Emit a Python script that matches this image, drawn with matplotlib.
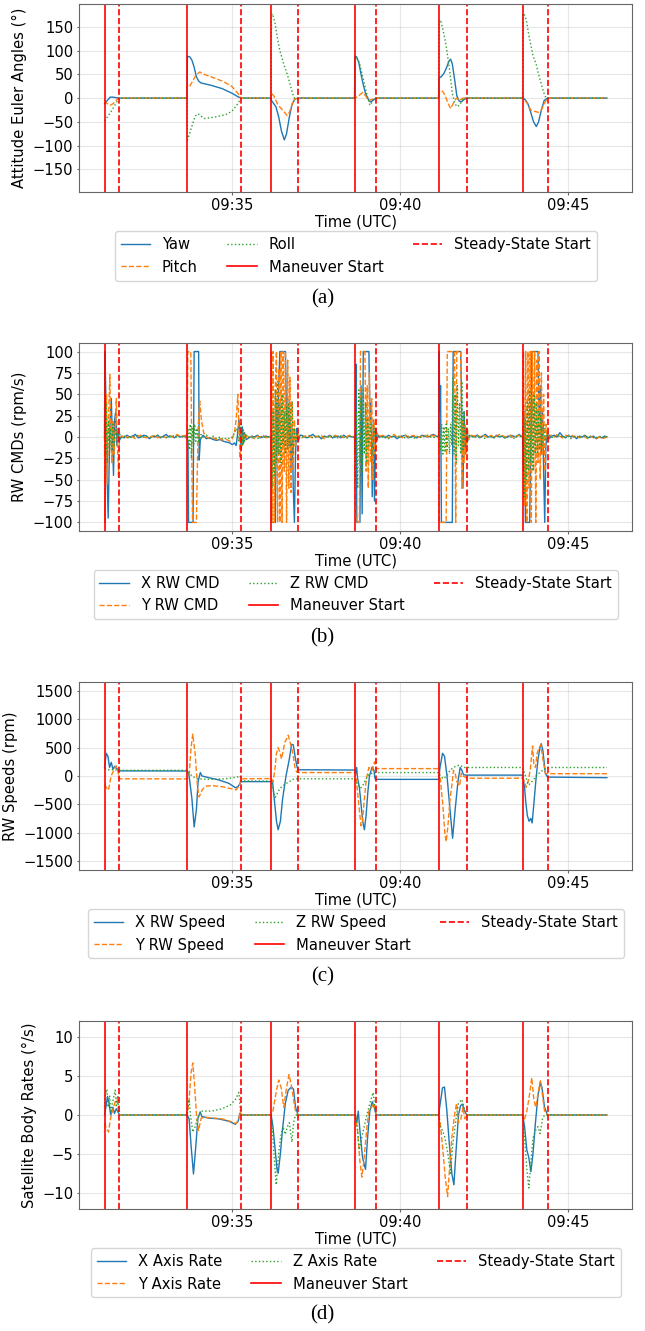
import numpy as np
import matplotlib
matplotlib.use('Agg')
import matplotlib.pyplot as plt
import matplotlib.dates as mdates
from matplotlib.ticker import MultipleLocator

plt.rcParams['font.size'] = 10.6

# time axis: seconds after the first maneuver (09:31:12.5 UTC)
START = np.datetime64('2024-01-01T09:31:12.500')
maneuver_start_s = [0, 148, 298, 447, 597, 747]
steady_start_s = [26.5, 244, 346, 485, 647, 791]

# ---------------- (a) attitude euler angles (deg) ----------------
yaw_t = [0, 5, 10, 15, 20, 26.5,
         147.5, 148, 152, 156, 160, 164, 168, 172, 190, 210, 228, 238, 244,
         297.5, 298, 301, 306, 311, 316, 321, 325, 330, 335, 340, 346,
         446.5, 447, 450, 454, 458, 462, 466, 471, 475, 479, 485,
         596.5, 597, 601, 606, 611, 615, 618, 621, 625, 629, 633, 637, 642, 647,
         746.5, 747, 751, 756, 761, 766, 771, 775, 780, 785, 791, 897]
yaw = [-12, -5, 2, 2, 1, 0,
       0, 88, 87, 80, 65, 45, 36, 32, 27, 20, 10, 3, 0,
       0, -5, -10, -18, -40, -70, -88, -75, -40, -12, -2, 0,
       0, 88, 87, 75, 50, 28, 10, -3, -8, -5, 0,
       0, 42, 45, 52, 65, 78, 82, 72, 40, 5, -6, -8, -3, 0,
       0, 0, -3, -12, -30, -50, -60, -50, -25, -5, 0, 0]

pitch_t = [0, 5, 10, 15, 22, 26.5,
           147.5, 148, 152, 157, 163, 170, 178, 190, 212, 227, 238, 244,
           297.5, 298, 302, 306, 310, 318, 326, 330, 336, 340, 346,
           446.5, 447, 452, 457, 461, 466, 472, 477, 485,
           596.5, 597, 601, 605, 609, 613, 618, 621, 625, 629, 634, 640, 647,
           746.5, 747, 754, 761, 768, 775, 780, 786, 791, 897]
pitch = [-5, -12, -15, -12, -3, 0,
         0, 28, 25, 35, 48, 55, 50, 45, 35, 25, 10, 0,
         0, 10, 5, -5, -15, -25, -37, -30, -10, -2, 0,
         0, 0, 3, 8, 12, 5, -5, -3, 0,
         0, 15, 17, 12, 3, -10, -22, -15, -5, 0, -5, 0, 0,
         0, 0, -10, -25, -28, -30, -25, -10, 0, 0]

roll_t = [0, 8, 16, 22, 26.5,
          147.5, 148, 152, 157, 162, 167, 172, 179, 197, 216, 227, 236, 244,
          297.5, 298, 300, 304, 309, 313, 318, 321, 325, 330, 335, 339, 346,
          446.5, 447, 450, 455, 460, 466, 470, 474, 478, 482, 485,
          596.5, 597, 600, 605, 610, 616, 621, 625, 629, 634, 638, 642, 647,
          746.5, 747, 749, 753, 758, 765, 771, 775, 781, 786, 789, 791, 897]
roll = [-48, -35, -20, -8, 0,
        0, -88, -75, -55, -38, -33, -38, -43, -40, -35, -28, -15, 0,
        0, 175, 178, 160, 125, 100, 80, 68, 55, 35, 12, 0, 0,
        0, 85, 85, 75, 50, 20, 0, -15, -8, 0, 0,
        0, 160, 165, 140, 110, 60, 10, -10, -18, -15, -5, 0, 0,
        0, 175, 178, 165, 130, 90, 70, 50, 25, 5, 0, 0, 0]

# ---------------- (b) reaction wheel commands (rpm/s) ----------------
cmd_quiet_t = [30, 35, 40, 45, 50, 55, 60, 65, 70, 75, 80, 85, 90, 95, 100, 105,
               110, 115, 120, 125, 130, 135, 140, 145,
               258, 263, 268, 273, 278, 283, 288, 293,
               352, 357, 362, 367, 372, 377, 382, 387, 392, 397, 402, 407, 412,
               417, 422, 427, 432, 437, 442,
               492, 497, 502, 507, 512, 517, 522, 527, 532, 537, 542, 547, 552,
               557, 562, 567, 572, 577, 582, 587, 592,
               655, 660, 665, 670, 675, 680, 685, 690, 695, 700, 705, 710, 715,
               720, 725, 730, 735, 740, 744,
               798, 803, 808, 813, 818, 823, 828, 833, 838, 843, 848, 853, 858,
               863, 868, 873, 878, 883, 888, 893, 897]
cmd_x_quiet = [1, -1, 2, 0, 1, 3, -1, 0, 2, 1, -2, 1, 0, 2, -1, 1, 3, 0, 1, -1, 2, 0, 1, 0,
               -1, 1, 0, 2, -1, 0, 1, 0,
               2, 0, -1, 1, 3, 0, 1, -2, 1, 0, 2, -1, 0, 1, -1, 2, 0, 1, 0,
               0, 1, -1, 2, 0, 1, -2, 0, 1, 2, -1, 0, 1, -1, 0, 2, 1, 0, 1, 3, 1,
               1, 0, 2, -1, 1, 3, 0, 1, -1, 2, 0, 1, -1, 0, 2, 1, 0, 3, 1,
               1, 2, 0, 5, 1, -1, 2, 0, 1, -2, 1, 0, 2, -1, 0, 1, -2, 0, -1, 1, 0]
cmd_y_quiet = [0, 2, -1, 1, 0, -2, 1, 2, 0, -1, 1, 0, 2, -1, 0, 1, -1, 2, 0, 1, 3, 0, 1, 2,
               1, 0, -2, 1, 0, 2, -1, 1,
               -1, 1, 2, 0, -1, 1, 0, 2, -2, 0, 1, -1, 2, 0, 1, -1, 0, 2, 1,
               1, 2, 0, -1, 1, 3, 0, 1, -1, 2, 0, 1, 2, -1, 0, 1, 2, 0, 3, 1, 2,
               2, 1, 3, 0, 2, 1, -1, 2, 0, 1, 3, 2, 0, 1, 2, -1, 1, 2, 0,
               2, 0, 3, 1, -1, 2, 1, 3, 0, 2, -1, 1, 0, -2, 1, -1, -2, 0, -2, -1, 0]
cmd_z_quiet = [-1, 1, 0, -2, 1, 0, 2, -1, 0, 1, -1, 0, 1, 2, -1, 0, -1, 1, 0, 2, -1, 1, 0, -1,
               0, -1, 1, -2, 0, 1, -1, 0,
               1, -1, 0, 2, -1, 0, 1, -2, 0, 1, -1, 2, 0, -1, 1, 0, -2, 1, 0,
               -1, 0, 1, -2, 0, 1, -1, 2, 0, -1, 1, 0, -2, 1, 0, -1, 1, 2, 0, -1, 1,
               0, 1, -1, 2, 0, -2, 1, 0, -1, 1, 2, 0, -1, 1, 0, -2, 1, 0, 1,
               -1, 1, 0, 2, -1, 0, 1, -2, 0, 1, -1, 0, 2, -1, 1, 0, -1, 1, 0, -1, 1]

cmd_x_man_t = [0, 0.6, 2, 3.5, 5, 6.5, 8, 10, 12, 14, 16, 18, 20, 22, 24, 26,
               147.5, 149, 150, 158, 160, 168, 169, 171, 176, 182, 188, 194, 200, 206,
               212, 218, 224, 228, 232, 235, 237, 240, 242, 244, 246, 248, 250, 253,
               297.5, 298, 305, 307, 309, 311, 313, 323, 325, 327, 329, 331, 333, 335,
               337, 339, 341, 343, 346, 349,
               446.5, 447.5, 449, 450.5, 456, 458, 460, 462, 472, 474, 476, 478, 480,
               482, 484, 486, 489,
               596.5, 597.5, 598.5, 600, 601.5, 621, 622.5, 636, 638, 640, 642, 644,
               646, 648, 651,
               746.5, 748, 750, 751.5, 759, 761, 763, 774, 776, 778, 780, 782, 784,
               786, 788, 791, 794]
cmd_x_man = [0, 100, 60, -20, -60, -95, -40, 20, 45, 0, -45, 20, 30, -10, 10, -5,
             0, -5, -100, -100, 100, 100, -27, -3, 2, -2, -1, -3, -4, -3,
             -5, -6, -7, -9, -7, -10, 0, 20, 5, -15, 12, -8, 5, -3,
             0, -100, -100, 40, -20, 60, 100, 100, 20, 45, -10, 25, -40, 10,
             -60, -100, -20, 10, -5, 2,
             0, -20, 85, -100, -100, 60, -90, 100, 100, 20, 40, -70, 20,
             -75, 10, -5, 2,
             0, 100, 30, 60, -100, -100, 100, 100, 20, -60, 30, -20,
             10, -5, 2,
             0, -40, 30, -100, -100, -20, 100, 100, 20, 60, -20, 30, -40,
             -100, -10, 5, -2]

cmd_y_man_t = [0, 0.8, 2, 3.5, 5, 7, 9.5, 11, 13, 15, 17, 19, 21, 23, 25, 26.5,
               147.5, 148.7, 154, 157, 164, 167, 170, 173, 177, 182, 188, 194, 200,
               206, 212, 218, 224, 228, 232, 235, 238, 240, 242, 244, 246, 248, 251, 254,
               297.5, 298, 299, 301, 303, 305, 307, 309, 311, 313, 315, 317, 319, 321,
               323, 325, 327, 329, 331, 333, 335, 337, 339, 341, 344, 347,
               446.5, 447, 449, 455, 457, 465, 467, 469, 471, 473, 475, 477, 479, 481,
               483, 486, 490,
               596.5, 597.5, 610, 612, 625, 627, 629, 636, 638, 640, 642, 644, 646,
               648, 650, 652,
               746.5, 748, 750, 752, 754, 756, 758, 760, 762, 764, 766, 768, 770, 772,
               774, 776, 778, 780, 782, 784, 786, 788, 791, 794]
cmd_y_man = [0, -100, -30, 50, -55, 20, 73, 10, -30, 20, -20, 10, 45, -10, -47, 0,
             0, 100, 100, -100, -100, 10, 42, 20, 5, 0, -2, -1, -3,
             -2, -4, -3, -5, -2, 5, 20, 50, 10, -25, 10, -10, 5, -3, 1,
             0, 100, -100, 100, -100, 60, 100, -100, 80, -100, 100, -100, 100, -40,
             100, -100, 90, -60, 70, -65, 40, -40, 20, -10, 5, 0,
             0, -60, -100, -100, 100, 100, -40, 60, -60, 75, -30, 45, -50, 20,
             -20, 5, 0,
             0, -100, -100, 100, 100, -100, 100, 100, -60, 20, -30, 15, -20,
             8, -3, 0,
             0, 100, -80, 100, -100, 100, -60, 100, -100, 100, -40, 100, -100, 90,
             -30, 100, -50, 75, -20, 50, -40, 15, -5, 2]

cmd_z_man_t = [0, 1, 2, 3, 5, 7, 9, 11, 13, 15, 17, 20, 23, 26,
               147.5, 149, 151, 153, 155, 157, 159, 161, 163, 165, 168, 172, 176, 182,
               188, 194, 200, 206, 212, 218, 224, 228, 232, 236, 240, 244, 246, 248,
               250, 252, 255,
               297.5, 299, 301, 303, 305, 307, 309, 311, 313, 315, 317, 319, 321, 323,
               325, 327, 329, 331, 333, 335, 337, 339, 341, 344, 347,
               446.5, 448, 450, 452, 454, 456, 458, 460, 462, 464, 466, 468, 470, 472,
               475, 478, 481, 484, 487,
               596.5, 598, 600, 602, 604, 606, 608, 610, 612, 614, 616, 618, 620, 622,
               624, 626, 628, 630, 632, 634, 636, 638, 640, 642, 644, 646, 648, 651,
               746.5, 749, 751, 753, 755, 757, 759, 761, 763, 765, 767, 769, 771, 773,
               775, 777, 779, 781, 784, 787, 791]
cmd_z_man = [0, 80, -20, 40, -30, 20, -15, 10, -15, 15, -10, 10, -5, 5,
             0, 10, -15, 15, -25, 10, -10, 15, -5, 10, -5, 3, 0, 2,
             -1, 1, -2, 0, -3, -1, -2, 0, 5, 10, -5, 17, -10, 8,
             -5, 3, 0,
             0, -60, 30, -45, 55, -30, 65, -20, 40, -30, 50, -10, 30, -20,
             35, -15, 40, -10, 35, 42, -20, 10, -5, 3, 0,
             0, -50, 30, -60, 55, -30, 45, -40, 55, -20, 40, -30, 20, -10,
             15, -20, 10, -5, 2,
             0, 15, -15, 15, -20, 12, -18, 15, -15, 10, -20, 15, -10, 70,
             -20, 50, -30, 60, -10, 40, -20, 65, -15, 30, -10, 10, -5, 0,
             0, -70, 20, -50, 40, -40, 55, -30, 45, -40, 50, -20, 40, -20,
             30, -15, 25, -10, 15, -5, 3]

# ---------------- (c) reaction wheel speeds (rpm) ----------------
spd_x_t = [0, 3, 6, 9, 12, 15, 18, 22, 26.5, 147.5,
           151, 156, 160, 164, 167, 171, 174, 186, 204, 222, 234, 239, 244, 297.5,
           300, 303, 307, 310, 314, 318, 324, 330, 334, 337, 341, 344, 346, 446.5,
           449, 450, 452, 455, 458, 461, 464, 467, 470, 473, 476, 478, 481, 483, 485, 596.5,
           599, 603.5, 607, 611.5, 616, 621.5, 626, 631, 635, 638, 641, 647, 746.5,
           750, 752, 755, 758, 761, 763.5, 766.5, 770, 774, 777.5, 779.7, 782.7, 787, 791, 897]
spd_x = [150, 400, 350, 150, 240, 120, 170, 130, 90, 88,
         0, -400, -900, -600, -100, 60, 0, -30, -70, -130, -210, -180, -100, -100,
         -100, -400, -800, -950, -800, -400, 0, 300, 560, 550, 300, 150, 110, 105,
         50, 150, -50, -200, -500, -800, -950, -700, -300, 0, 100, 160, 100, -50, -60, -60,
         150, 400, 350, 0, -500, -1100, -600, -100, 150, 100, 20, 15, 15,
         -200, -450, -700, -800, -750, -830, -500, -100, 300, 500, 570, 450, 50, -20, -30]

spd_y_t = [0, 3, 7, 11.8, 16.6, 20.8, 23.5, 26.5, 147.5,
           151, 154.5, 157.5, 161.7, 166, 169, 174, 180, 192, 210, 228, 235, 240, 244, 297.5,
           301, 304, 307, 310, 313, 316, 319, 322, 325, 328, 331, 334, 337, 340, 343, 346, 446.5,
           448, 452, 456, 458, 460.5, 464, 467.5, 472, 478, 482, 485, 596.5,
           597, 600, 604, 607.5, 610, 613, 617, 621, 623, 626, 629, 634, 637, 640, 644, 647, 746.5,
           750, 753, 756.3, 760, 764.3, 766.5, 769.5, 772.4, 776, 779, 782.7, 787, 791, 897]
spd_y = [-150, -200, -250, 0, 100, 180, 100, -50, -52,
         0, 500, 740, 400, -200, -370, -250, -180, -170, -190, -230, -245, -180, -50, -46,
         -100, 100, 400, 500, 420, 300, 450, 600, 650, 720, 600, 500, 350, 150, 70, 60, 60,
         60, -300, -700, -880, -800, -400, -50, 150, 100, 250, 130, 130,
         130, -100, -500, -1000, -1160, -900, -400, -100, 100, 50, -100, -175, 50, 0, -20, -40, -40,
         -100, -200, -100, 100, 530, 200, 150, 400, 500, 550, 300, 50, 40, 40]

spd_z_t = [0, 7, 17, 26.5, 147.5,
           156, 165, 186, 216, 236, 242, 244, 297.5,
           301, 305, 309, 313, 318, 323, 330, 336, 341, 446.5,
           452, 457, 462, 467, 472, 478, 485, 596.5,
           600, 605, 611, 617, 623, 629, 635, 641, 647, 746.5,
           751.7, 754.7, 757.6, 765, 772.4, 779.7, 786, 791, 897]
spd_z = [130, 110, 110, 100, 100,
         0, -50, -60, -50, -20, 0, -87, -90,
         -250, -380, -300, -220, -180, -140, -100, -60, -50, -50,
         -150, -220, -150, -50, 30, 50, 60, 60,
         -10, -50, 0, 100, 150, 180, 190, 150, 150, 150,
         0, -100, -158, -80, 20, 80, 130, 150, 150]

# ---------------- (d) satellite body rates (deg/s) ----------------
rate_x_t = [0, 2.4, 5.3, 8, 11, 15, 17.7, 21, 24.7, 26.5, 147.5,
            151, 154.6, 158.8, 163, 166.6, 170.8, 173.8, 185.8, 203.8, 221.8, 233.8, 238.6, 241.6, 244, 297.5,
            300.7, 304, 308, 310, 314, 317.6, 322.8, 328, 334, 337.5, 341, 345.7, 446.5,
            448, 450.5, 453, 456, 460.7, 466, 469.6, 473.7, 478, 481.5, 485, 596.5,
            599.4, 603.5, 607, 611.3, 615.4, 620, 623.8, 627.3, 632, 635.7, 639.2, 642.8, 647, 746.5,
            750, 754, 757.6, 761.3, 765, 769.4, 773.9, 778.3, 781.2, 785.6, 791, 897]
rate_x = [0, 1, 2.4, 1.5, 0, 1, 0.2, 0.8, 0.3, 0, 0,
          -0.5, -4, -7.6, -4, -0.5, 0.4, -0.2, -0.4, -0.5, -0.8, -1.2, -0.8, 0.2, 0, 0,
          -1.5, -4, -7, -7.5, -5, -2, 1.5, 3.2, 3.6, 3.3, 1, 0, 0,
          0, -1, 0.5, -2, -5.5, -7, -3, 0.5, 1.7, 1, 0, 0,
          1.5, 3.5, 3.6, 0.5, -3.5, -7.5, -9, -5, 0, 1.2, 1.4, 0.5, 0, 0,
          -1.5, -4.5, -5.5, -7.3, -5, -1, 2.5, 4.2, 3.5, 1, 0, 0]

rate_y_t = [0, 2.4, 7, 10.6, 14, 19, 22.4, 24.7, 26.5, 147.5,
            151, 154.6, 157.6, 160.6, 164.2, 167.8, 172.6, 179.8, 209.8, 227.8, 235, 239.8, 242.2, 244, 297.5,
            300.7, 306.6, 311, 315.4, 320, 325, 329.4, 333, 337.5, 341, 345.7, 446.5,
            448, 451.8, 456, 459.5, 463, 467.8, 472, 476.7, 481.5, 485, 596.5,
            599.4, 603.5, 608.3, 612.5, 616, 620, 625, 628.5, 632, 636.3, 640, 643.4, 647, 746.5,
            750, 754, 757.6, 762.8, 766.5, 770, 774.6, 778.3, 782, 785.6, 791, 897]
rate_y = [-1, -1.6, -2.2, -0.5, 0.5, 1.7, 2, 0.5, 0, 0,
          2, 5.5, 6.7, 4, 0, -2, -0.4, -0.3, -0.5, -0.9, -1.1, -0.5, 0.4, 0, 0,
          0.5, 3, 4.5, 3.5, 1, 3.5, 5.2, 4, 2, 0.5, 0, 0,
          0, -2, -6, -8, -6, -2, 0.5, 1, 1.5, 0, 0,
          -1, -4, -8, -10.5, -7, -3, 0, 1.5, -1, -0.5, 1, -0.5, 0, 0,
          -0.5, 0.5, 2, 4.8, 2, 1, 3, 4.4, 2.5, 0.5, 0, 0]

rate_z_t = [0, 1.2, 4, 6.5, 9, 11, 14, 19, 21, 23.5, 26.5, 147.5,
            151, 153.4, 157.6, 161.8, 166.6, 172.6, 191.8, 209.8, 224.8, 233.8, 239.8, 242.8, 244, 297.5,
            300.7, 304.4, 306.6, 309.5, 314, 318.4, 322.8, 326.5, 330, 334.6, 337.5, 341, 345.7, 446.5,
            448, 451.8, 454.7, 458.9, 463.6, 468.4, 473.7, 479.7, 482.6, 485, 596.5,
            599.4, 603.5, 608, 613, 617.8, 621.4, 625, 628.5, 632, 638, 641.6, 647, 746.5,
            750, 754, 757.6, 761.3, 765, 769.4, 773.9, 777.6, 782, 785.6, 791, 897]
rate_z = [1, 2.5, 3.3, 1, 2.5, 0.5, 1.5, 3.2, 1, 2.5, 0, 0,
          2, 0, -2.2, -1.5, -0.3, 0.5, 0.5, 0.8, 1.3, 2, 2.9, 0.5, 0, 0,
          -3, -7, -9, -6, -3, -1.5, -2.5, -1.5, -1, -3.5, -1, 0, 0, 0,
          0, -2, -4.5, -3, -1.5, 0, 1.5, 2.9, 1, 0, 0,
          -1.5, -2, -3, -5, -7.5, -4, -2, 0, 1.5, 2, 1, 0, 0,
          -3, -7, -9.4, -6, -3, -2, -1.5, -2.4, -0.5, 0, 0, 0]


def to_time(sec):
    return START + (np.asarray(sec, dtype=float) * 1000).astype('timedelta64[ms]')


def merged(*parts):
    t = np.concatenate([np.asarray(p[0], dtype=float) for p in parts])
    v = np.concatenate([np.asarray(p[1], dtype=float) for p in parts])
    order = np.argsort(t, kind='stable')
    return t[order], v[order]


cmd_x_t, cmd_x = merged((cmd_x_man_t, cmd_x_man), (cmd_quiet_t, cmd_x_quiet))
cmd_y_t, cmd_y = merged((cmd_y_man_t, cmd_y_man), (cmd_quiet_t, cmd_y_quiet))
cmd_z_t, cmd_z = merged((cmd_z_man_t, cmd_z_man), (cmd_quiet_t, cmd_z_quiet))

blue, orange, green = '#1f77b4', '#ff7f0e', '#2ca02c'

panels = [
    dict(bottom=0.8557, ylabel='Attitude Euler Angles (°)', ylim=(-198, 198), step=50,
         cap='(a)', cap_y=0.7754,
         series=[(yaw_t, yaw, 'Yaw', blue, '-'), (pitch_t, pitch, 'Pitch', orange, '--'),
                 (roll_t, roll, 'Roll', green, ':')]),
    dict(bottom=0.6011, ylabel='RW CMDs (rpm/s)', ylim=(-110, 110), step=25,
         cap='(b)', cap_y=0.5207,
         series=[(cmd_x_t, cmd_x, 'X RW CMD', blue, '-'), (cmd_y_t, cmd_y, 'Y RW CMD', orange, '--'),
                 (cmd_z_t, cmd_z, 'Z RW CMD', green, ':')]),
    dict(bottom=0.3464, ylabel='RW Speeds (rpm)', ylim=(-1660, 1660), step=500,
         cap='(c)', cap_y=0.2662,
         series=[(spd_x_t, spd_x, 'X RW Speed', blue, '-'), (spd_y_t, spd_y, 'Y RW Speed', orange, '--'),
                 (spd_z_t, spd_z, 'Z RW Speed', green, ':')]),
    dict(bottom=0.0917, ylabel='Satellite Body Rates (°/s)', ylim=(-12.1, 12.1), step=5,
         cap='(d)', cap_y=0.0120,
         series=[(rate_x_t, rate_x, 'X Axis Rate', blue, '-'), (rate_y_t, rate_y, 'Y Axis Rate', orange, '--'),
                 (rate_z_t, rate_z, 'Z Axis Rate', green, ':')]),
]

fig = plt.figure(figsize=(6.45, 13.31), dpi=100)
fig.patch.set_facecolor('white')

for p in panels:
    ax = fig.add_axes([0.123, p['bottom'], 0.857, 0.1412])
    for t, v, label, color, ls in p['series']:
        ax.plot(to_time(t), v, color=color, linestyle=ls, lw=1.0, label=label)
    for i, s in enumerate(maneuver_start_s):
        ax.axvline(to_time(s), color='red', lw=1.2, label='Maneuver Start' if i == 0 else None)
    for i, s in enumerate(steady_start_s):
        ax.axvline(to_time(s), color='red', lw=1.2, linestyle='--',
                   label='Steady-State Start' if i == 0 else None)

    ax.set_xlim(to_time(-45), to_time(942))
    ax.set_ylim(*p['ylim'])
    ax.yaxis.set_major_locator(MultipleLocator(p['step']))
    ax.xaxis.set_major_locator(mdates.MinuteLocator(byminute=[35, 40, 45]))
    ax.xaxis.set_major_formatter(mdates.DateFormatter('%H:%M'))
    ax.tick_params(length=1.8, pad=2.5, color='0.4')
    ax.set_xlabel('Time (UTC)', labelpad=1)
    ax.set_ylabel(p['ylabel'])
    ax.grid(True, alpha=0.3)
    for sp in ax.spines.values():
        sp.set_color('0.4')
    ax.legend(loc='upper center', bbox_to_anchor=(0.5, -0.17), ncol=3)

    fig.text(0.5, p['cap_y'], p['cap'], ha='center', va='center', fontsize=15,
             family=['Liberation Serif', 'DejaVu Serif'])

fig.savefig('out.png', dpi=100, facecolor='white')
